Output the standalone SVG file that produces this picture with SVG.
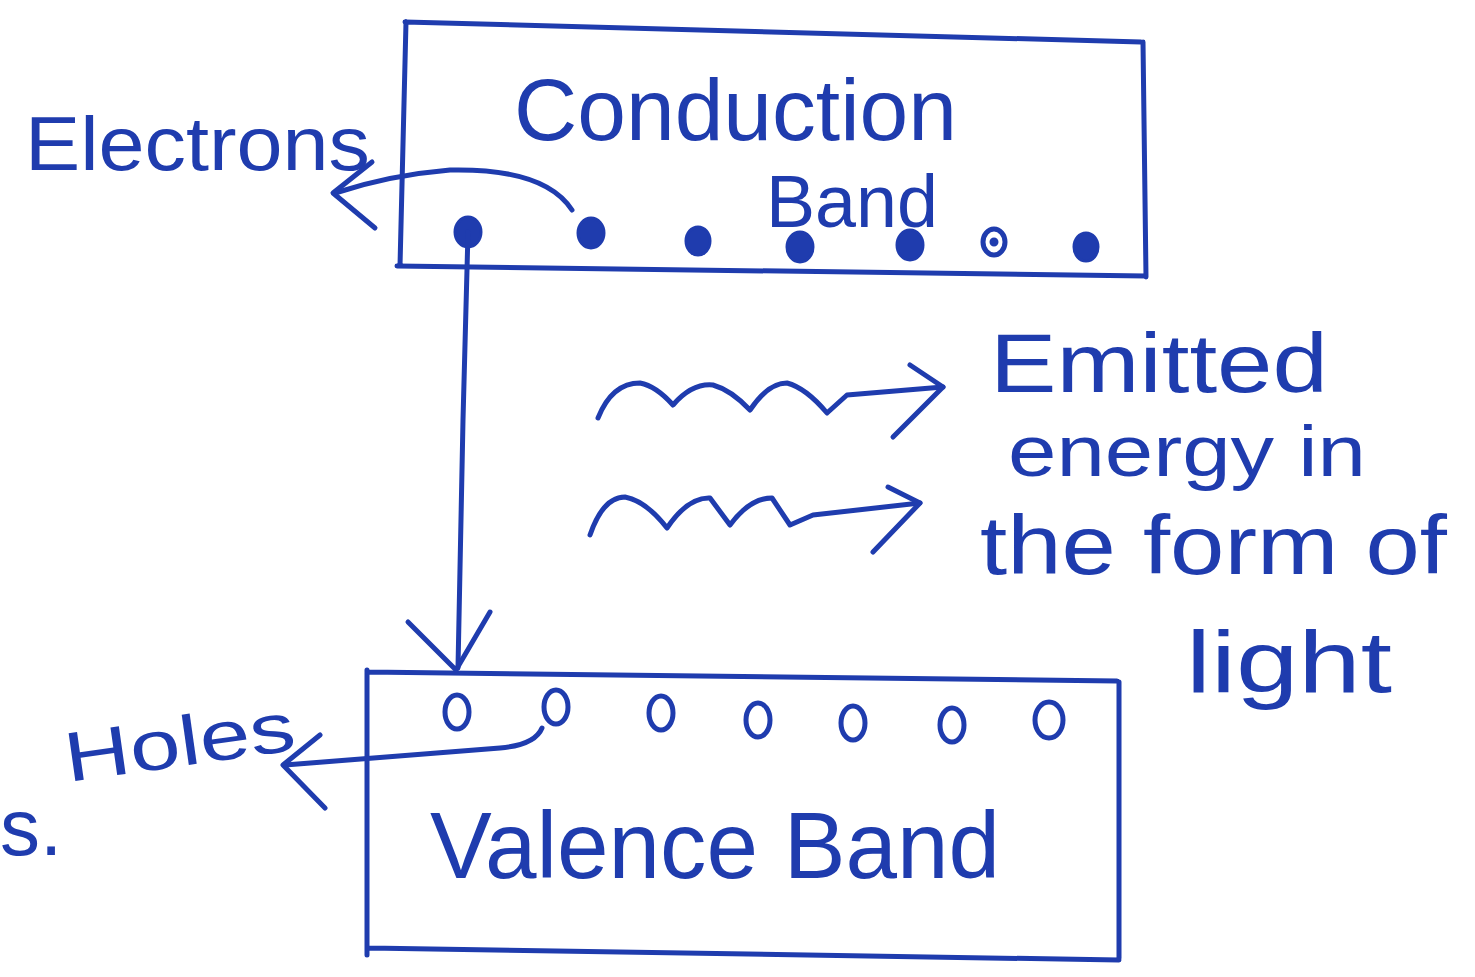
<svg xmlns="http://www.w3.org/2000/svg" width="1475" height="977" viewBox="0 0 1475 977">
<style>
.ink{fill:none;stroke:#1f3cae;stroke-width:5;stroke-linecap:round;stroke-linejoin:round}
.dot{fill:#1f3cae;stroke:#1f3cae;stroke-width:3}
.hole{fill:none;stroke:#1f3cae;stroke-width:5}
.t{fill:#1f3cae;font-family:"Liberation Sans","DejaVu Sans",sans-serif}
</style>
<rect width="1475" height="977" fill="#ffffff"/>
<g id="conduction-band">
<path class="ink" d="M405 22 L1141 42 M1143 42 L1146 277 M1146 276 L397 266 M400 266 L406 22"/>
<text class="t" x="514" y="140" font-size="88" textLength="443" lengthAdjust="spacingAndGlyphs">Conduction</text>
<text class="t" x="766" y="227" font-size="74" textLength="172" lengthAdjust="spacingAndGlyphs">Band</text>
<ellipse class="dot" cx="468" cy="232" rx="13" ry="15"/>
<ellipse class="dot" cx="591" cy="233" rx="13" ry="15"/>
<ellipse class="dot" cx="698" cy="241" rx="12" ry="14"/>
<ellipse class="dot" cx="800" cy="247" rx="13" ry="15"/>
<ellipse class="dot" cx="910" cy="245" rx="13" ry="15"/>
<ellipse class="hole" cx="994" cy="242" rx="11" ry="13"/>
<circle class="dot" cx="994" cy="242" r="3"/>
<ellipse class="dot" cx="1086" cy="247" rx="12" ry="14"/>
</g>
<g id="valence-band">
<path class="ink" d="M367 672 L1117 681 M1119 682 L1119 958 M1119 960 L369 948 M367 955 L367 670"/>
<ellipse class="hole" cx="457" cy="712" rx="12" ry="17"/>
<ellipse class="hole" cx="556" cy="707" rx="12" ry="17"/>
<ellipse class="hole" cx="661" cy="713" rx="12" ry="17"/>
<ellipse class="hole" cx="758" cy="720" rx="12" ry="17"/>
<ellipse class="hole" cx="853" cy="723" rx="12" ry="17"/>
<ellipse class="hole" cx="952" cy="725" rx="12" ry="17"/>
<ellipse class="hole" cx="1049" cy="720" rx="14" ry="18"/>
<text class="t" x="430" y="878" font-size="94" textLength="570" lengthAdjust="spacingAndGlyphs">Valence Band</text>
</g>
<g id="labels">
<text class="t" x="25" y="170" font-size="76" textLength="345" lengthAdjust="spacingAndGlyphs">Electrons</text>
<text class="t" x="68" y="782" font-size="70" textLength="232" lengthAdjust="spacingAndGlyphs" transform="rotate(-8 68 782)">Holes</text>
<text class="t" x="990" y="392" font-size="84" textLength="338" lengthAdjust="spacingAndGlyphs">Emitted</text>
<text class="t" x="1008" y="476" font-size="72" textLength="358" lengthAdjust="spacingAndGlyphs">energy in</text>
<text class="t" x="980" y="574" font-size="84" textLength="467" lengthAdjust="spacingAndGlyphs">the form of</text>
<text class="t" x="1186" y="692" font-size="88" textLength="206" lengthAdjust="spacingAndGlyphs">light</text>
<text class="t" x="0" y="855" font-size="80">s.</text>
</g>
<g id="connectors">
<path class="ink" d="M572 210 Q545 168 450 170 Q390 175 335 193"/>
<path class="ink" d="M372 162 L333 193 L375 228"/>
<path class="ink" d="M468 232 L463 420 L458 668"/>
<path class="ink" d="M408 622 L456 670 L490 612"/>
<path class="ink" d="M542 728 Q535 745 500 748 L285 765"/>
<path class="ink" d="M320 735 L283 765 L325 808"/>
<path class="ink" d="M598 418 Q612 383 640 383 Q656 386 673 405 Q692 383 713 385 Q731 390 750 410 Q768 383 787 383 Q806 388 827 413 L847 395 L943 387"/>
<path class="ink" d="M910 365 L943 387 L893 437"/>
<path class="ink" d="M590 535 Q603 497 625 497 Q646 501 667 528 Q688 497 710 498 L730 525 Q750 498 772 498 L790 525 L813 515 L920 503"/>
<path class="ink" d="M888 487 L920 503 L873 552"/>
</g>
</svg>
